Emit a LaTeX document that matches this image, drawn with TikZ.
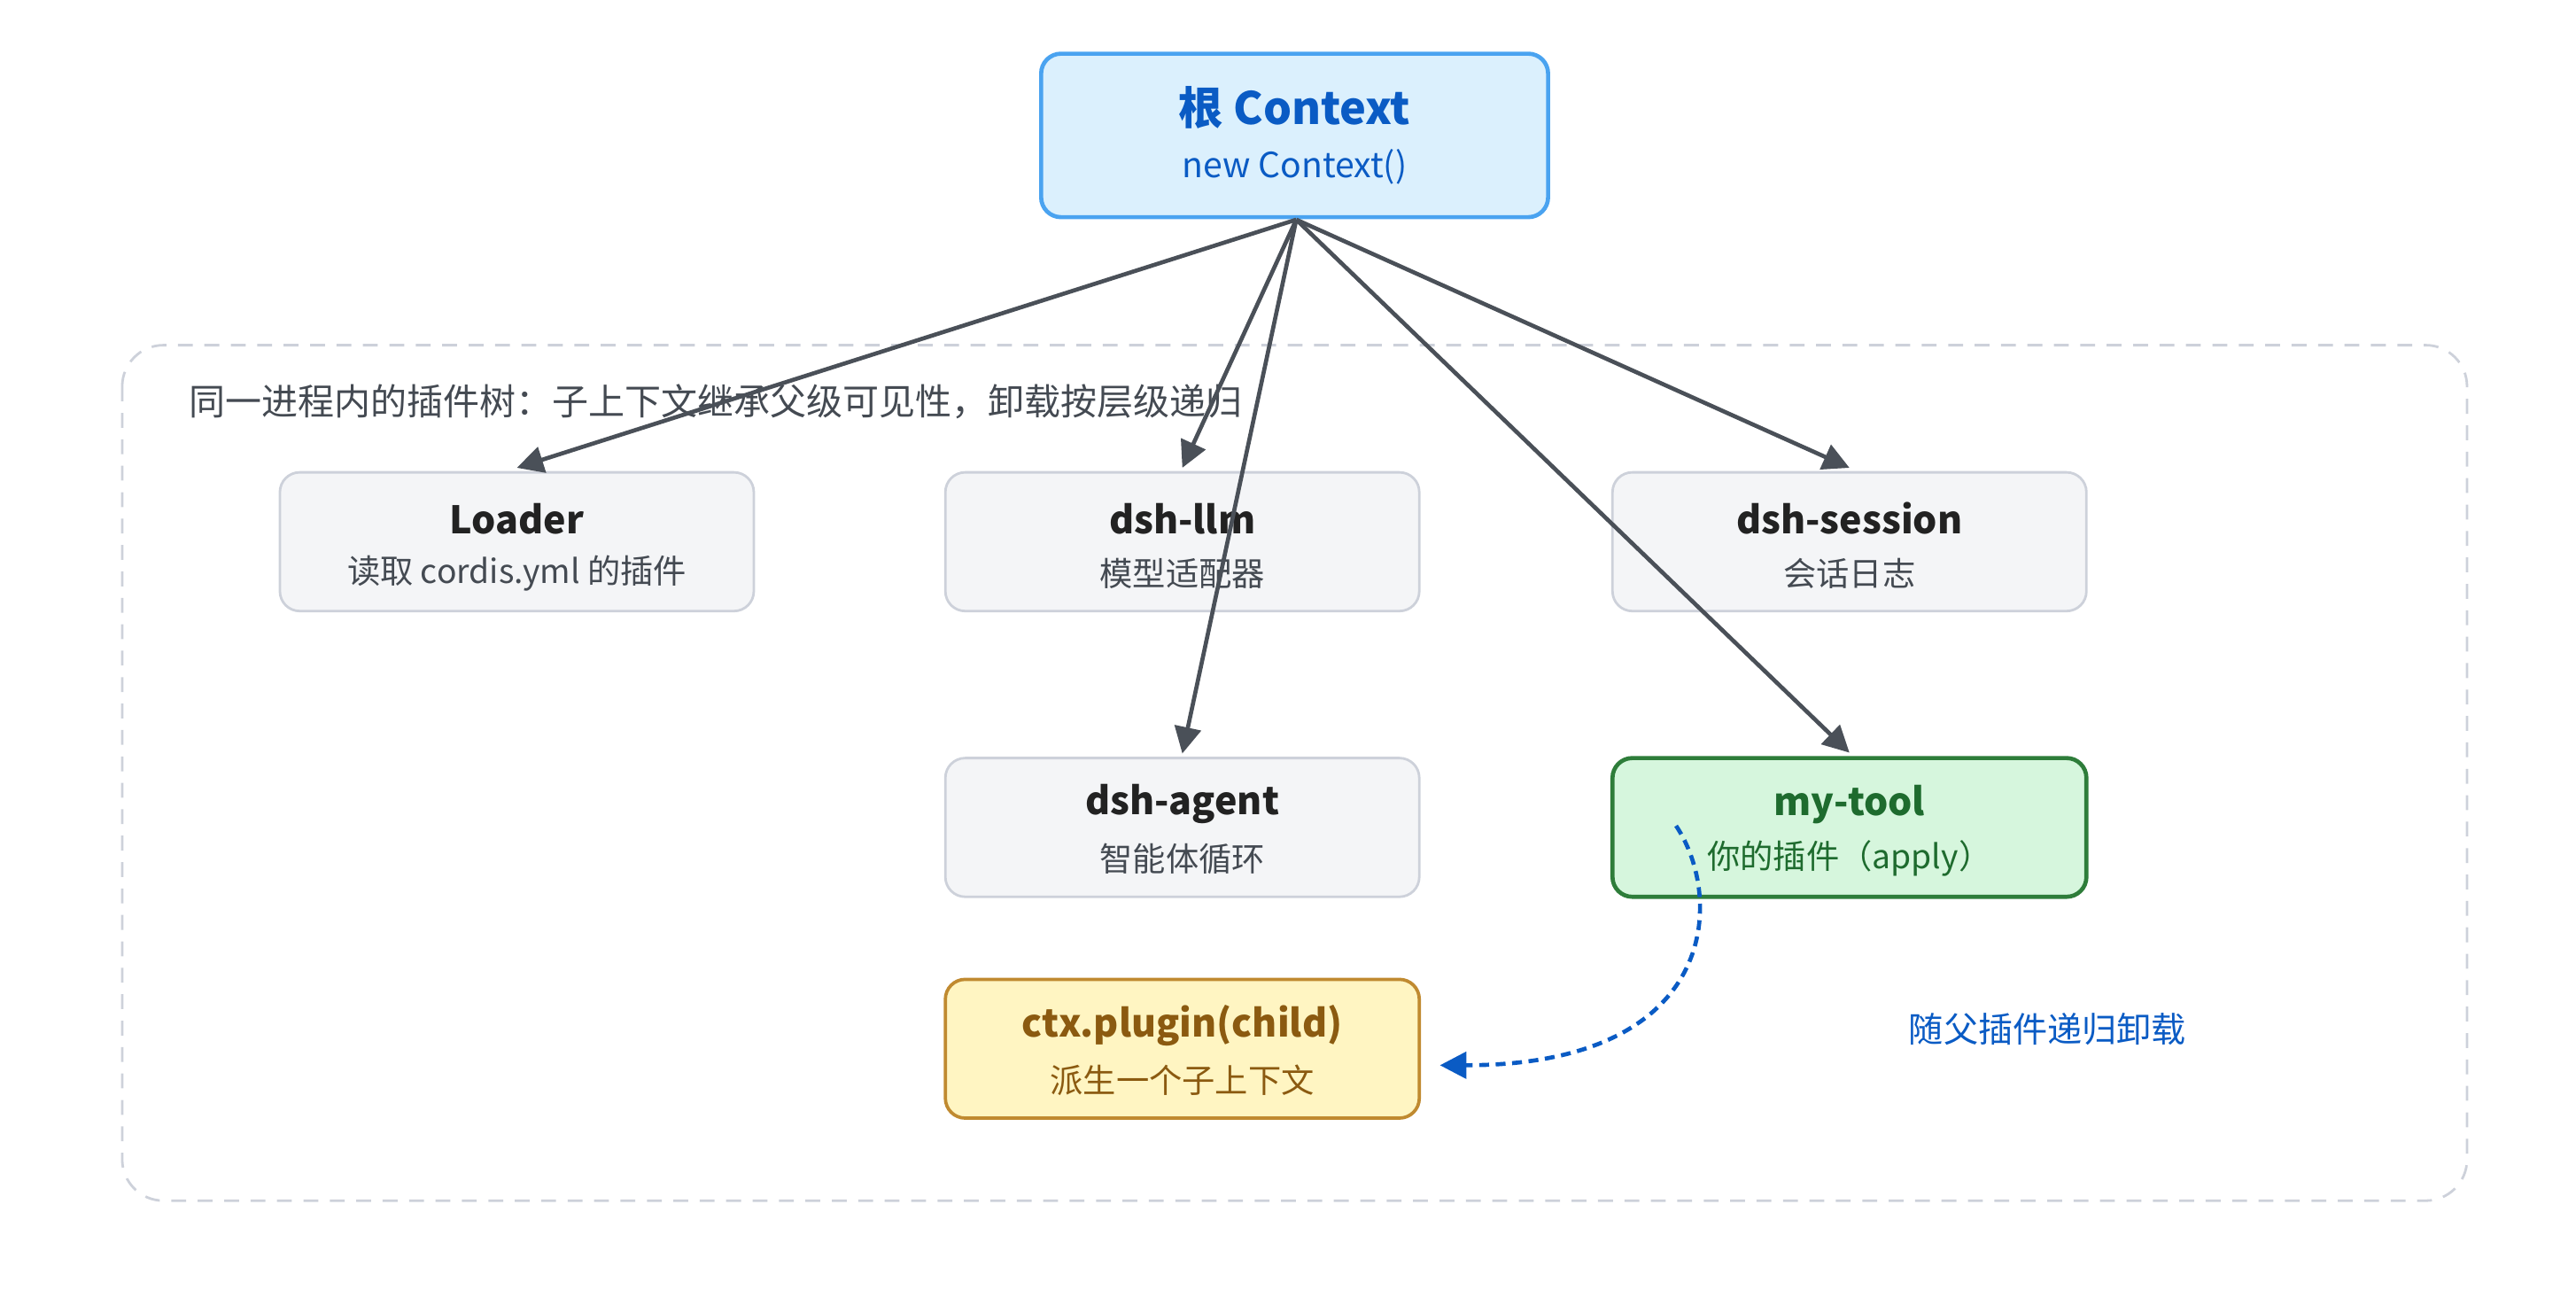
\documentclass[tikz,border=0pt]{standalone}
\usepackage{fontspec}
\setmainfont{Noto Sans CJK SC}
\usetikzlibrary{arrows.meta,positioning}
\definecolor{rootfill}{HTML}{DBF0FD}
\definecolor{rootline}{HTML}{4AA3F0}
\definecolor{roottext}{HTML}{0A5BC4}
\definecolor{plainfill}{HTML}{F4F5F7}
\definecolor{plainline}{HTML}{CDD1DA}
\definecolor{plaintext}{HTML}{222222}
\definecolor{subtext}{HTML}{444A52}
\definecolor{toolfill}{HTML}{D6F6DD}
\definecolor{toolline}{HTML}{2E7D3A}
\definecolor{tooltext}{HTML}{1E6B2E}
\definecolor{childfill}{HTML}{FFF5C2}
\definecolor{childline}{HTML}{C08A30}
\definecolor{childtext}{HTML}{8B5A10}
\definecolor{edge}{HTML}{4A5058}

\tikzstyle{plugin}=[draw=plainline, fill=plainfill, line width=1.5pt, rounded corners=12pt, minimum width=287pt, minimum height=84pt, inner sep=0pt]
\tikzstyle{root}=[plugin, draw=rootline, fill=rootfill, line width=2.5pt, minimum width=307pt, minimum height=99pt]
\tikzstyle{tool}=[plugin, draw=toolline, fill=toolfill, line width=2.5pt]
\tikzstyle{child}=[plugin, draw=childline, fill=childfill, line width=2pt]
\tikzstyle{link}=[draw=edge, line width=2.5pt, -{Triangle[length=16pt,width=16pt]}]

\begin{document}
\begin{tikzpicture}[x=1pt, y=-1pt]
			\useasboundingbox (0,0) rectangle (1560,795);
			%The dashed container
			\draw[plainline, line width=1.5pt, dash pattern=on 9pt off 7pt, rounded corners=25pt] (74,209) rectangle (1494,727);
			\node[anchor=west, font=\fontsize{22}{26}\selectfont, text=subtext] (treelabel) at (111,243) {同一进程内的插件树：子上下文继承父级可见性，卸载按层级递归};
			%The boxes
			\node[root] (ctx) at (784,82) {};
			\node[font=\fontsize{27}{32}\selectfont\bfseries, text=roottext] (ctxtitle) at (784,65) {根 Context};
			\node[font=\fontsize{21}{25}\selectfont, text=roottext] (ctxsub) at (784,101) {new Context()};
			\foreach \name/\pos/\style/\col/\subcol/\title/\sub in {
					loader/{(313,328)}/plugin/plaintext/subtext/Loader/读取 cordis.yml 的插件,
					llm/{(716,328)}/plugin/plaintext/subtext/dsh-llm/模型适配器,
					session/{(1120,328)}/plugin/plaintext/subtext/dsh-session/会话日志,
					agent/{(716,501)}/plugin/plaintext/subtext/dsh-agent/智能体循环,
					tool/{(1120,501)}/tool/tooltext/tooltext/my-tool/你的插件（apply）,
					child/{(716,635)}/child/childtext/childtext/ctx.plugin(child)/派生一个子上下文}
			{
				\node[\style] (\name) at \pos {};
				\node[font=\fontsize{23}{28}\selectfont\bfseries, text=\col] (\name title) at ([yshift=14pt]\name.center) {\title};
				\node[font=\fontsize{20}{24}\selectfont, text=\subcol] (\name sub) at ([yshift=-19pt]\name.center) {\sub};
			}
			%Arrows from the root
			\coordinate (src) at (785,133);
			\draw[link] (src) -- ([yshift=2pt]loader.north);
			\draw[link] (src) -- ([yshift=2pt]llm.north);
			\draw[link] (src) -- ([yshift=2pt]agent.north);
			\draw[link] (src) -- ([yshift=2pt]session.north);
			\draw[link] (src) -- ([yshift=2pt]tool.north);
			%Unload path
			\coordinate (start) at (1015,500);
			\coordinate (stop) at (872,645);
			\draw[roottext, line width=2.5pt, dash pattern=on 6pt off 4pt, -{Triangle[length=16pt,width=16pt]}] (start) .. controls (1045,545) and (1040,645) .. (stop);
			\node[font=\fontsize{21}{25}\selectfont, text=roottext] (unload) at (1240,623) {随父插件递归卸载};
		\end{tikzpicture}
\end{document}
